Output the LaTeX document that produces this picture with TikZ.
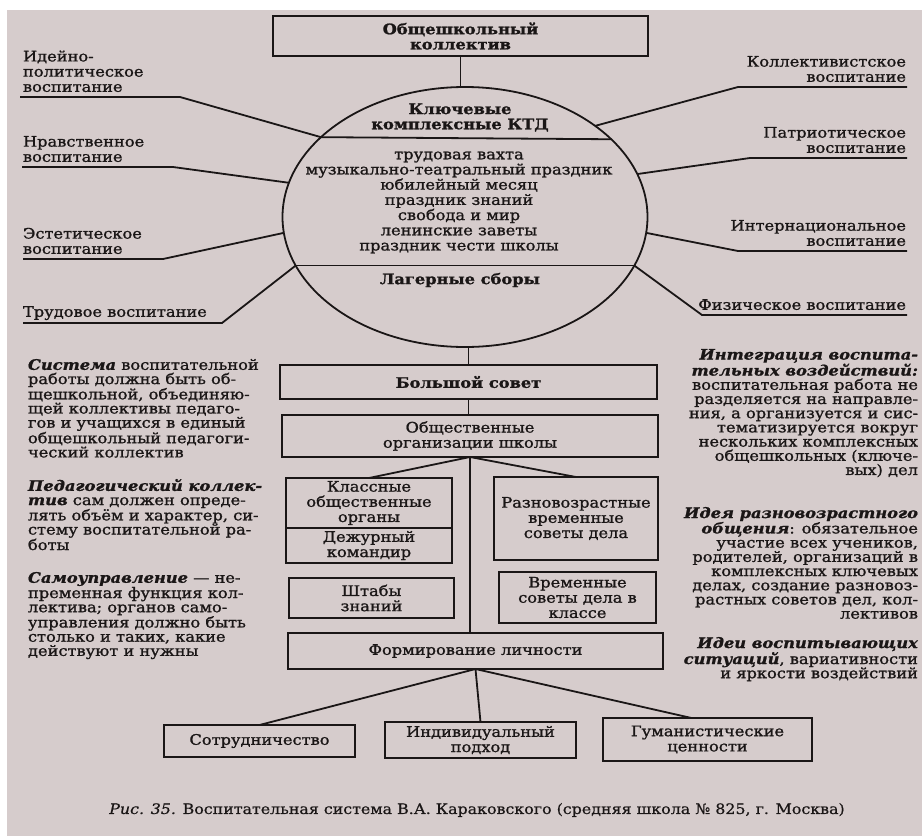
\documentclass[tikz,border=0pt]{standalone}
\usepackage{fontspec}
\setmainfont{DejaVu Serif}[FakeStretch=1.12, FakeBold=1.2]
\newfontfamily\capfam{DejaVu Serif}[FakeStretch=1.1, FakeBold=0.6]
\usetikzlibrary{shapes.geometric}
\definecolor{paper}{HTML}{D6CCCC}
\definecolor{ink}{HTML}{1A1616}
\newcommand\lblfont{\fontsize{14.5}{15.2}\selectfont}
\newcommand\txtfont{\fontsize{14.5}{14.2}\selectfont}
\newcommand\capfont{\capfam\fontsize{14.4}{15}\selectfont}
\newcommand\bitx[1]{\textbf{\textit{#1}}}
\begin{document}
\begin{tikzpicture}[x=1pt,y=-1pt,
  every node/.style={inner sep=0pt, outer sep=0pt, text=ink},
  ln/.style={draw=ink, line width=1.8pt},
  bx/.style={draw=ink, line width=1.8pt, align=center, font=\lblfont},
  lbl/.style={align=left, font=\lblfont},
  lblr/.style={align=right, font=\lblfont},
  blk/.style={align=left, font=\txtfont},
  blkr/.style={align=right, font=\txtfont}]

\fill[white] (0,0) rectangle (922,836);
\fill[paper] (7,10) rectangle (922,836);
\useasboundingbox (0,0) rectangle (922,836);

% top box and ellipse
\node[bx, font=\lblfont\bfseries, minimum width=375pt, minimum height=40pt] (top) at (460.5,36) {Общешкольный\\коллектив};
\node[draw=ink, line width=1.8pt, ellipse, minimum width=365pt, minimum height=260pt] (circ) at (465,217) {};
\draw[ln] (top.south) -- (top.south |- circ.north);

\node[font=\lblfont\bfseries, align=center] (ktd) at (460,117.5) {Ключевые\\комплексные КТД};
\draw[ln] (circ.151.4) -- (circ.28.6);
\node[font=\lblfont, align=center] (events) at (459,202.5) {трудовая вахта\\музыкально-театральный праздник\\юбилейный месяц\\праздник знаний\\свобода и мир\\ленинские заветы\\праздник чести школы};
\draw[ln] (circ.196.6) -- (circ.-16.6);
\node[font=\lblfont\bfseries] (camp) at (460,280) {Лагерные сборы};

% left labels
\node[lbl, anchor=south west] (ideo) at (23,92) {Идейно-\\политическое\\воспитание};
\coordinate (ideoA) at (20,97); \coordinate (ideoB) at (180,97);
\draw[ln] (ideoA) -- (ideoB) -- (circ.151.4);

\node[lbl, anchor=south west] (nrav) at (23,162) {Нравственное\\воспитание};
\coordinate (nravA) at (22,167); \coordinate (nravB) at (173,167);
\draw[ln] (nravA) -- (nravB) -- (circ.169.1);

\node[lbl, anchor=south west] (est) at (23,254) {Эстетическое\\воспитание};
\coordinate (estA) at (23,259); \coordinate (estB) at (163,259);
\draw[ln] (estA) -- (estB) -- (circ.185.1);

\node[lbl, anchor=south west] (trud) at (23,320) {Трудовое воспитание};
\coordinate (trudA) at (23,323); \coordinate (trudB) at (222,323);
\draw[ln] (trudA) -- (trudB) -- (circ.196.6);

% right labels
\node[lblr, anchor=south east] (koll) at (906,82) {Коллективистское\\воспитание};
\coordinate (kollA) at (907,87); \coordinate (kollB) at (738,87);
\draw[ln] (kollA) -- (kollB) -- (circ.35);

\node[lblr, anchor=south east] (patr) at (906,153) {Патриотическое\\воспитание};
\coordinate (patrA) at (907,158); \coordinate (patrB) at (750,158);
\draw[ln] (patrA) -- (patrB) -- (circ.14.7);

\node[lblr, anchor=south east] (inter) at (906,246) {Интернациональное\\воспитание};
\coordinate (interA) at (907,251); \coordinate (interB) at (738,251);
\draw[ln] (interA) -- (interB) -- (circ.-5.1);

\node[lblr, anchor=south east] (fiz) at (906,310) {Физическое воспитание};
\coordinate (fizA) at (907,315); \coordinate (fizB) at (702,315);
\draw[ln] (fizA) -- (fizB) -- (circ.-16.6);

% structure
\node[bx, font=\lblfont\bfseries, minimum width=377pt, minimum height=34pt] (sovet) at (468.5,382) {Большой совет};
\draw[ln] (sovet.north |- circ.south) -- (sovet.north);
\node[bx, minimum width=376pt, minimum height=42pt] (orgs) at (470,436) {Общественные\\организации школы};
\draw[ln] (sovet.south) -- (sovet.south |- orgs.north);

\node[bx, minimum width=166pt, minimum height=50pt] (klass) at (369,503) {Классные\\общественные\\органы};
\node[bx, minimum width=166pt, minimum height=35pt] (dezh) at (369,545.5) {Дежурный\\командир};
\node[bx, minimum width=164pt, minimum height=83pt] (raznov) at (576,518.5) {Разновозрастные\\временные\\советы дела};
\node[bx, minimum width=165pt, minimum height=40pt] (shtab) at (371.5,598) {Штабы\\знаний};
\node[bx, minimum width=157pt, minimum height=51pt] (vrem) at (577.5,597.5) {Временные\\советы дела в\\классе};
\node[bx, minimum width=375pt, minimum height=36pt] (form) at (475.5,651) {Формирование личности};

\draw[ln] (orgs.south) -- (klass.north);
\draw[ln] (orgs.south) -- (raznov.north);
\draw[ln] (orgs.south) -- (orgs.south |- form.north);

\node[bx, minimum width=191pt, minimum height=32pt] (sotr) at (259.5,741) {Сотрудничество};
\node[bx, minimum width=191pt, minimum height=36pt] (indiv) at (480.5,740) {Индивидуальный\\подход};
\node[bx, minimum width=209pt, minimum height=43pt] (guman) at (707.5,739.5) {Гуманистические\\ценности};

\draw[ln] (form.south) -- (sotr.north);
\draw[ln] (form.south) -- (indiv.north);
\draw[ln] (form.south) -- ([xshift=-16pt]guman.north);

% left text blocks
\node[blk, anchor=north west] (sys) at (28,359) {\bitx{Система} воспитательной\\работы должна быть об-\\щешкольной, объединяю-\\щей коллективы педаго-\\гов и учащихся в единый\\общешкольный педагоги-\\ческий коллектив};
\node[blk, anchor=north west] (ped) at (28,479) {\bitx{Педагогический коллек-}\\\bitx{тив} сам должен опреде-\\лять объём и характер, си-\\стему воспитательной ра-\\боты};
\node[blk, anchor=north west] (samo) at (28,572) {\bitx{Самоуправление} — не-\\пременная функция кол-\\лектива; органов само-\\управления должно быть\\столько и таких, какие\\действуют и нужны};

% right text blocks
\node[blkr, anchor=north east] (integ) at (918,349) {\bitx{Интеграция воспита-}\\\bitx{тельных воздействий:}\\воспитательная работа не\\разделяется на направле-\\ния, а организуется и сис-\\тематизируется вокруг\\нескольких комплексных\\общешкольных (ключе-\\вых) дел};
\node[blkr, anchor=north east] (idea) at (918,507) {\bitx{Идея разновозрастного}\\\bitx{общения}: обязательное\\участие всех учеников,\\родителей, организаций в\\комплексных ключевых\\делах, создание разновоз-\\растных советов дел, кол-\\лективов};
\node[blkr, anchor=north east] (ideas) at (918,637) {\bitx{Идеи воспитывающих}\\\bitx{ситуаций}, вариативности\\и яркости воздействий};

% caption
\node[font=\capfont] (cap) at (477,810) {\textit{Рис. 35.} Воспитательная система В.А. Караковского (средняя школа № 825, г. Москва)};
\end{tikzpicture}
\end{document}
